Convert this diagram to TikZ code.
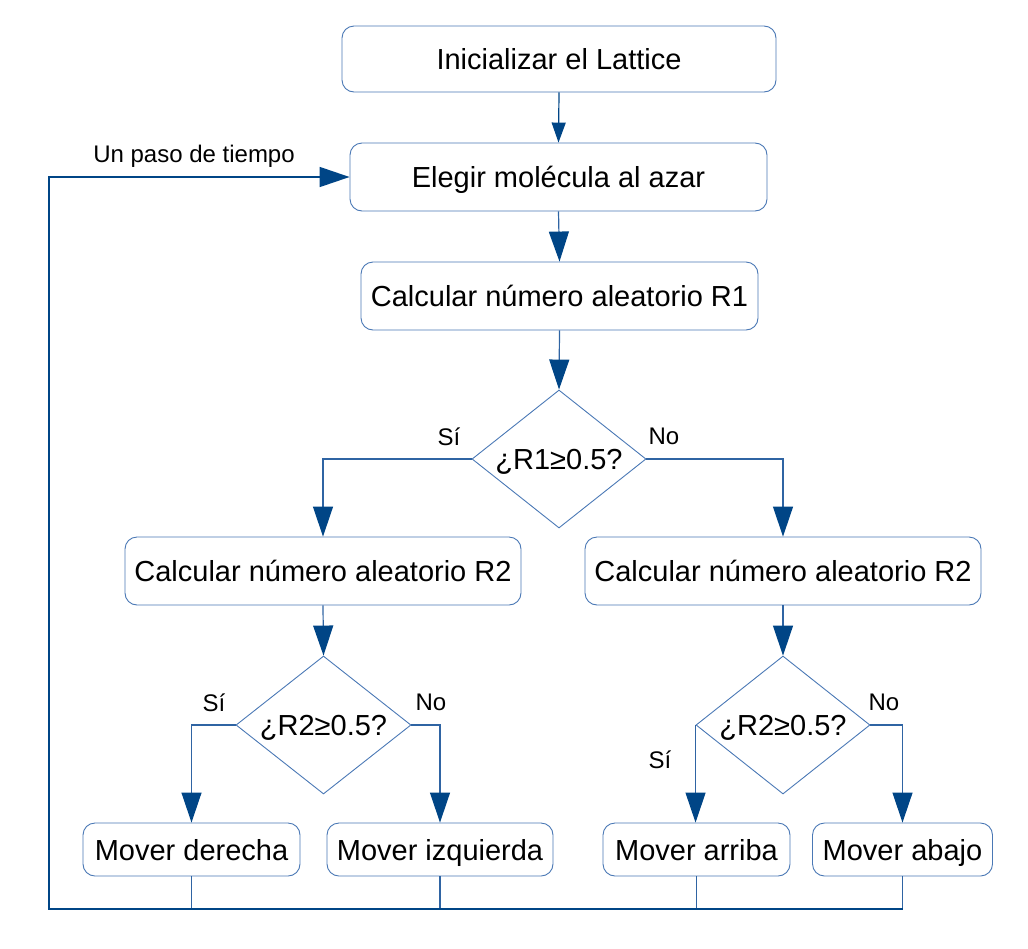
\documentclass[tikz,border=0pt]{standalone}
\usepackage{fontspec}
\setmainfont{Liberation Sans}
\usetikzlibrary{arrows.meta,shapes.geometric}
\definecolor{boxline}{HTML}{4A78B5}
\definecolor{connline}{HTML}{2F64A3}
\definecolor{tipblue}{HTML}{004586}
\begin{document}
\begin{tikzpicture}[x=1pt,y=-1pt,
  box/.style={draw=boxline,line width=0.9pt,rounded corners=12pt,fill=white,
    inner sep=0pt,font=\fontsize{29}{35}\selectfont,text=black,
    text height=21pt,text depth=0pt},
  dia/.style={draw=boxline,line width=0.9pt,shape=diamond,inner sep=0pt,
    minimum width=174pt,minimum height=138pt,aspect=1.26,
    font=\fontsize{29}{35}\selectfont,text height=21pt,text depth=0pt},
  lbl/.style={font=\fontsize{24}{29}\selectfont,inner sep=0pt},
  conn/.style={draw=connline,line width=1.2pt,
    -{Triangle[width=20pt,length=30pt,color=tipblue]}},
  plain/.style={draw=connline,line width=1.2pt},
  ret/.style={draw=tipblue,line width=1.6pt}]
\useasboundingbox (0,0) rectangle (1028,948);
% boxes
\node[box,minimum width=434pt,minimum height=66pt] (b1) at (559,59) {Inicializar el Lattice};
\node[box,minimum width=417pt,minimum height=68pt] (b2) at (558.5,177) {Elegir molécula al azar};
\node[box,minimum width=397pt,minimum height=68pt] (b3) at (559.5,296) {Calcular número aleatorio R1};
\node[dia] (d1) at (559,459) {¿R1≥0.5?};
\node[box,minimum width=396pt,minimum height=68pt] (b4) at (323,571) {Calcular número aleatorio R2};
\node[box,minimum width=396pt,minimum height=68pt] (b5) at (783,571) {Calcular número aleatorio R2};
\node[dia,minimum width=175pt] (d2) at (323.5,725) {¿R2≥0.5?};
\node[dia] (d3) at (783,725) {¿R2≥0.5?};
\node[box,minimum width=217pt,minimum height=53pt] (m1) at (191.5,849.5) {Mover derecha};
\node[box,minimum width=226pt,minimum height=53pt] (m2) at (440,849.5) {Mover izquierda};
\node[box,minimum width=187pt,minimum height=53pt] (m3) at (696.5,849.5) {Mover arriba};
\node[box,minimum width=180pt,minimum height=53pt] (m4) at (902.5,849.5) {Mover abajo};
% labels
\node[lbl] (lt) at (194,156) {Un paso de tiempo};
\node[lbl] (s1) at (449,437) {Sí};
\node[lbl] (n1) at (664,436) {No};
\node[lbl] (s2) at (214,703) {Sí};
\node[lbl] (n2) at (431,702) {No};
\node[lbl] (s3) at (660,760) {Sí};
\node[lbl] (n3) at (884,702) {No};
% connectors
\draw[draw=tipblue,line width=1.2pt,-{Triangle[width=14pt,length=20pt,color=tipblue]}] (b1.south) -- (b2.north);
\draw[conn] (b2.south) -- (b3.north);
\draw[conn] (b3.south) -- (d1.north);
\draw[conn] (d1.west) -| (b4.north);
\draw[conn] (d1.east) -| (b5.north);
\draw[conn] (b4.south) -- (d2.north);
\draw[conn] (b5.south) -- (d3.north);
\draw[conn] (d2.west) -| (m1.north);
\draw[conn] (d2.east) -| (m2.north);
\draw[conn] (d3.west) -- (d3.west |- m3.north);
\draw[conn] (d3.east) -| (m4.north);
% return loop
\coordinate (loopL) at (49,909);
\draw[plain] (m1.south) -- (m1.south |- loopL);
\draw[plain] (m2.south) -- (m2.south |- loopL);
\draw[plain] (m3.south) -- (m3.south |- loopL);
\draw[plain] (m4.south) -- (m4.south |- loopL);
\draw[ret,-{Triangle[width=20pt,length=30pt,color=tipblue]}] (m4.south |- loopL) -- (loopL) |- (b2.west);
\end{tikzpicture}
\end{document}
